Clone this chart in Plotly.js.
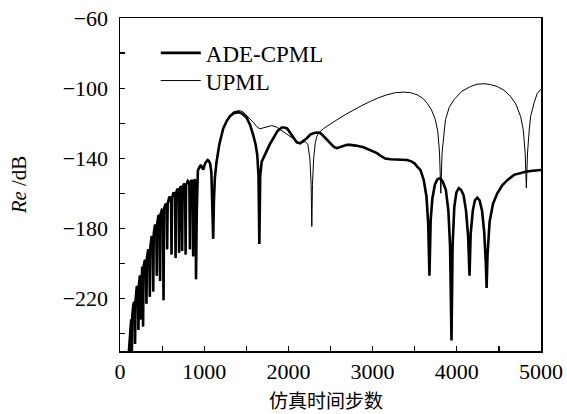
<!DOCTYPE html>
<html>
<head>
<meta charset="utf-8">
<script src="https://cdn.plot.ly/plotly-3.0.1.min.js"></script>
<style>
html,body{margin:0;padding:0;background:#fff;}
#chart{width:567px;height:414px;}
</style>
</head>
<body>
<div id="chart"></div>
<script>
// Shared early part (both curves coincide up to ~1300 steps)
const earlySteps = [
  94,100,106,120, 133,139,145,160, 173,179,185,200, 213,219,225,236, 245,250,256,263,
  269,274,280,295, 308,314,320,335, 348,354,360,375, 389,395,401,416, 431,437,443,457,
  470,476,482,497, 511,517,523,538, 554,560,566,586, 606,612,618,636, 654,660,666,681,
  696,702,708,720, 732,738,744,760, 773,779,785,805, 824,830,836,850, 863,869,875,888,
  897,903,911,
  925,945,961,975,990,1010,1040,1055,1070,1085,1098,1107,1115,1127,1147,1180,1226,1270
];
const earlyValues = [
  -262,-278,-250,-238, -232,-262,-230,-223, -222,-246,-221,-213, -214,-238,-212,-207, -208,-232,-206,-202,
  -203,-236,-202,-198, -199,-223,-197,-192, -193,-219,-191,-185, -185,-216,-183,-178, -179,-207,-177,-172.5,
  -173,-210,-172,-169.5, -170,-221,-169,-166.5, -166,-192,-166,-162, -163,-195,-163,-159.5, -161,-197,-160,-157.5,
  -158.5,-194,-158,-156, -157,-193,-157,-154.5, -156,-195,-155.5,-153, -154,-192,-154,-152.5, -153.5,-196,-153.5,-152,
  -156,-209,-172,
  -147,-145,-143.8,-145.5,-146.5,-143,-141,-141.5,-143,-148,-165,-186,-165,-151,-142,-132,-123,-118.5
];

// ADE-CPML after divergence
const cpmlSteps = [
  1306,1350,1405,1450,1505,1545,1583,1610,1630,1645,1655,1665,1683,1710,1743,1780,1821,1870,1920,1950,
  1985,2020,2060,2100,2139,2180,2219,2260,2298,2340,2377,2420,2457,2500,2540,2576,2620,2660,2695,2734,
  2800,2893,2960,3000,3052,3092,3150,3211,3300,3410,3460,3500,3529,3568,3607,3640,3660,3675,3690,3710,
  3740,3770,3798,3830,3870,3900,3920,3937,3950,3970,3995,4024,4050,4080,4110,4135,4151,4165,4190,4215,
  4243,4270,4300,4325,4345,4354,4365,4390,4430,4481,4540,4600,4679,4750,4818,4900,5000
];
const cpmlValues = [
  -116,-114.3,-113.7,-114.5,-117,-121,-127,-132,-138,-150,-189,-150,-142,-139,-136,-132,-128.6,-124.5,-122.5,-122.5,
  -123,-125.5,-128.5,-131,-131.5,-130,-128.6,-126.5,-125.7,-125.3,-125.5,-127.5,-129.5,-131.8,-133.6,-134.3,-133.6,-132.7,-132.4,-132.4,
  -132.8,-133.8,-135,-136,-137.1,-138.5,-140.2,-140.6,-140.8,-141,-141.8,-143,-144.8,-146.7,-152.4,-162,-177,-207,-175,-163,
  -155,-152,-151.4,-153,-158,-170,-190,-244,-190,-168,-159.5,-157.1,-158,-161,-170,-185,-207,-183,-170,-164,
  -162.5,-164,-170,-182,-200,-214,-195,-176,-166,-160,-155.5,-152.5,-149.5,-148.5,-147.7,-147.2,-146.7
];

// UPML after divergence
const upmlSteps = [
  1306,1350,1417,1460,1505,1545,1583,1624,1663,1700,1743,1802,1862,1940,2020,2070,2100,2139,2199,2230,
  2255,2270,2278,2286,2300,2320,2338,2377,2420,2496,2576,2680,2774,2870,2973,3070,3171,3270,3369,3450,
  3529,3600,3648,3700,3746,3775,3795,3810,3825,3845,3865,3910,3964,4060,4163,4240,4321,4400,4481,4560,
  4639,4700,4758,4790,4812,4826,4840,4860,4877,4920,4957,5000
];
const upmlValues = [
  -115.5,-113.5,-112.8,-113.5,-115.5,-117.5,-119.5,-122,-123.3,-122.7,-122,-121.4,-122.3,-125,-127.6,-129.5,-130.5,-131.5,-130.5,-132,
  -140,-155,-179,-155,-140,-131,-127.5,-124.8,-123,-120.5,-118.1,-115,-112.4,-110,-107.6,-105.5,-103.8,-102.6,-102.3,-102.6,
  -103.8,-106,-108.6,-112.5,-118.1,-125,-137,-160,-137,-125,-118.1,-111,-106.7,-101.8,-99.1,-97.8,-97.5,-98,-99.1,-101.2,
  -104.8,-109,-116.2,-124,-137,-157,-137,-124,-116.2,-108,-102.9,-100.6
];

const seriesNames = ['ADE-CPML', 'UPML'];
const xTitle = '仿真时间步数';
const yTitle = '<i>Re</i> /dB';

const traces = [
  {
    x: earlySteps.concat(cpmlSteps),
    y: earlyValues.concat(cpmlValues),
    type: 'scatter', mode: 'lines', name: seriesNames[0], legend: 'legend',
    line: {color: '#000', width: 2.6}
  },
  {
    x: earlySteps.concat(upmlSteps),
    y: earlyValues.concat(upmlValues),
    type: 'scatter', mode: 'lines', name: seriesNames[1], legend: 'legend2',
    line: {color: '#000', width: 1}
  }
];

const serif = 'Liberation Serif, Times New Roman, serif';
const legendFont = {family: serif, size: 23, color: '#000'};
const layout = {
  width: 567, height: 414,
  margin: {l: 120, r: 26, t: 18, b: 63},
  paper_bgcolor: '#fff', plot_bgcolor: '#fff',
  showlegend: true,
  legend: {
    x: 0.085, y: 0.895, xanchor: 'left', yanchor: 'middle',
    bgcolor: 'rgba(0,0,0,0)', borderwidth: 0, font: legendFont, itemwidth: 40
  },
  legend2: {
    x: 0.085, y: 0.812, xanchor: 'left', yanchor: 'middle',
    bgcolor: 'rgba(0,0,0,0)', borderwidth: 0, font: legendFont, itemwidth: 40
  },
  annotations: [{
    text: xTitle, xref: 'paper', yref: 'paper', x: 0.49, y: -0.147,
    xanchor: 'center', yanchor: 'middle', showarrow: false, borderpad: 0,
    font: {family: 'Noto Sans CJK SC', size: 19, color: '#000'}
  }],
  xaxis: {
    range: [0, 5000], dtick: 1000, tick0: 0,
    ticks: 'inside', ticklen: 5, tickwidth: 1.2, tickcolor: '#000',
    minor: {dtick: 500, ticks: 'inside', ticklen: 5, tickwidth: 1.2, tickcolor: '#000', showgrid: false},
    showline: true, linecolor: '#000', linewidth: 1.5, mirror: true,
    showgrid: false, zeroline: false,
    tickfont: {family: serif, size: 22, color: '#000'}
  },
  yaxis: {
    range: [-250, -60], dtick: 40, tick0: -60,
    ticks: 'inside', ticklen: 5, tickwidth: 1.2, tickcolor: '#000',
    minor: {dtick: 20, ticks: 'inside', ticklen: 5, tickwidth: 1.2, tickcolor: '#000', showgrid: false},
    showline: true, linecolor: '#000', linewidth: 1.5, mirror: true,
    showgrid: false, zeroline: false, ticklabelstandoff: 6,
    tickfont: {family: serif, size: 22, color: '#000'},
    title: {text: yTitle, font: {family: serif, size: 21, color: '#000'}, standoff: 30}
  }
};

Plotly.newPlot('chart', traces, layout, {staticPlot: true, displayModeBar: false});
</script>
</body>
</html>
